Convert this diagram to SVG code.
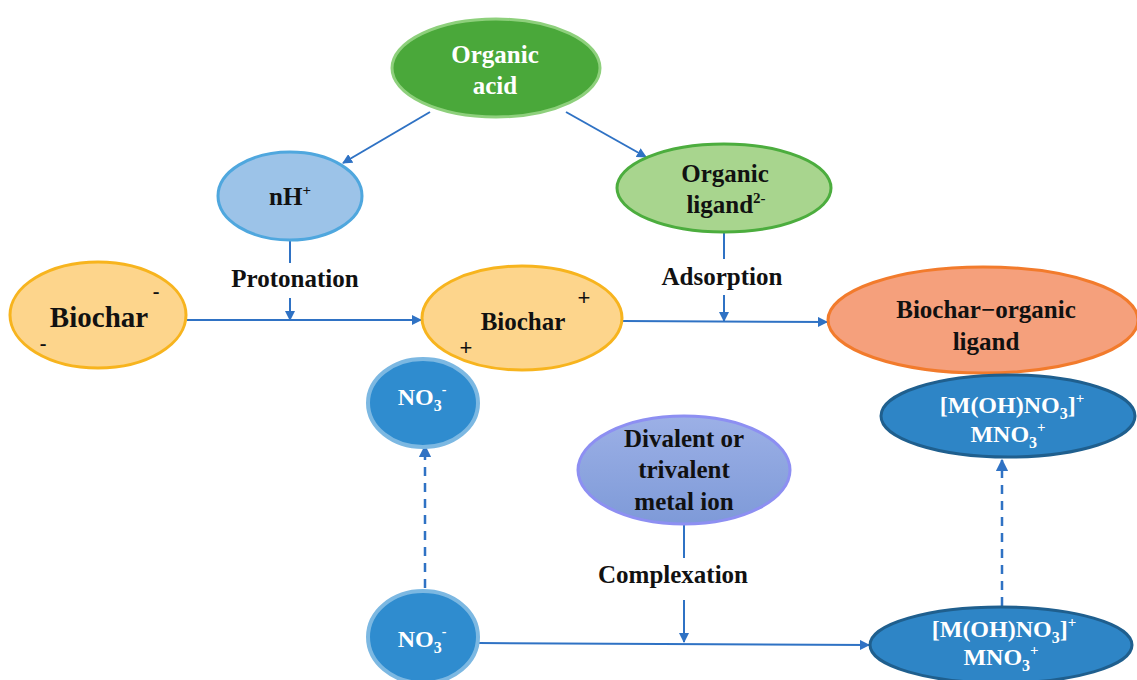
<svg xmlns="http://www.w3.org/2000/svg" width="1137" height="680" viewBox="0 0 1137 680">
<style>
text{font-family:"Liberation Serif","Times New Roman",serif;font-weight:bold;text-anchor:middle}
.k{fill:#111}
.w{fill:#fff}
.f25{font-size:25px}
.f24{font-size:24px}
.f29{font-size:29px}
.f20{font-size:20px}
.s{font-family:"Liberation Sans",Arial,sans-serif;font-weight:normal;fill:#111;font-size:22px}
.c{stroke:#2f72c4;stroke-width:2;fill:none}
.d{stroke:#2f72c4;stroke-width:2.5;fill:none;stroke-dasharray:9 7}
</style>
<defs>
<marker id="ah" viewBox="0 0 10 10" refX="9" refY="5" markerWidth="5" markerHeight="5" orient="auto"><path d="M0,0L10,5L0,10z" fill="#2f72c4"/></marker>
<linearGradient id="gv" x1="0" y1="0" x2="0" y2="1"><stop offset="0" stop-color="#9cb0e6"/><stop offset="1" stop-color="#7e9ad8"/></linearGradient>
</defs>
<g id="connectors">
<line class="c" x1="430" y1="112" x2="343" y2="163" marker-end="url(#ah)"/>
<line class="c" x1="566" y1="112" x2="646" y2="157" marker-end="url(#ah)"/>
<line class="c" x1="290" y1="240" x2="290" y2="263"/>
<line class="c" x1="290" y1="298" x2="290" y2="320" marker-end="url(#ah)"/>
<line class="c" x1="724" y1="232" x2="724" y2="259"/>
<line class="c" x1="724" y1="295" x2="724" y2="321" marker-end="url(#ah)"/>
<line class="c" x1="187" y1="320" x2="421" y2="320" marker-end="url(#ah)"/>
<line class="c" x1="622" y1="321" x2="827" y2="322" marker-end="url(#ah)"/>
<line class="c" x1="684" y1="525" x2="684" y2="558"/>
<line class="c" x1="684" y1="600" x2="684" y2="642" marker-end="url(#ah)"/>
<line class="c" x1="479" y1="643" x2="869" y2="645" marker-end="url(#ah)"/>
<line class="d" x1="425" y1="588" x2="425" y2="446" marker-end="url(#ah)"/>
<line class="d" x1="1002" y1="606" x2="1002" y2="460" marker-end="url(#ah)"/>
</g>
<g id="organic-acid">
<ellipse cx="496" cy="68" rx="104" ry="49" fill="#4aa83a" stroke="#8ed07c" stroke-width="3"/>
<text class="w f25" x="495" y="63">Organic</text>
<text class="w f25" x="495" y="94">acid</text>
</g>
<g id="nH">
<ellipse cx="290" cy="196" rx="72" ry="44" fill="#9cc3e8" stroke="#4fa7de" stroke-width="3"/>
<text class="k f25" x="290" y="205">nH<tspan font-size="15" dy="-10">+</tspan></text>
</g>
<g id="organic-ligand">
<ellipse cx="724" cy="188" rx="107" ry="44" fill="#a8d58e" stroke="#4cad3e" stroke-width="3"/>
<text class="k f25" x="725" y="182">Organic</text>
<text class="k f25" x="726" y="213">ligand<tspan font-size="15" dy="-10">2-</tspan></text>
</g>
<g id="label-protonation"><text class="k f25" x="295" y="287">Protonation</text></g>
<g id="label-adsorption"><text class="k f25" x="722" y="285">Adsorption</text></g>
<g id="biochar-neg">
<ellipse cx="98" cy="315" rx="88" ry="53" fill="#fdd58c" stroke="#f7b41e" stroke-width="3"/>
<text class="k f29" x="99" y="327">Biochar</text>
<text class="k f20" x="156" y="298">-</text>
<text class="k f20" x="43" y="350">-</text>
</g>
<g id="biochar-pos">
<ellipse cx="522" cy="318" rx="100" ry="52" fill="#fdd58c" stroke="#f7b41e" stroke-width="3"/>
<text class="k f25" x="523" y="330">Biochar</text>
<text class="s" x="584" y="305">+</text>
<text class="s" x="466" y="355">+</text>
</g>
<g id="biochar-organic-ligand">
<ellipse cx="983" cy="320" rx="155" ry="53" fill="#f5a07c" stroke="#f27b2c" stroke-width="3"/>
<text class="k f25" x="986" y="318">Biochar−organic</text>
<text class="k f25" x="986" y="350">ligand</text>
</g>
<g id="no3-upper">
<ellipse cx="423" cy="403" rx="55" ry="44" fill="#2f8ccf" stroke="#7cb8e2" stroke-width="4"/>
<text class="w f24" x="422" y="405">NO<tspan font-size="16" dy="6">3</tspan><tspan font-size="14" dy="-17">-</tspan></text>
</g>
<g id="complex-upper">
<ellipse cx="1008" cy="416" rx="127" ry="41" fill="#2e85c6" stroke="#1f5f8e" stroke-width="3"/>
<text class="w f24" x="1012" y="413">[M(OH)NO<tspan font-size="16" dy="6">3</tspan><tspan dy="-6">]</tspan><tspan font-size="15" dy="-10">+</tspan></text>
<text class="w f24" x="1008" y="442">MNO<tspan font-size="16" dy="6">3</tspan><tspan font-size="15" dy="-16">+</tspan></text>
</g>
<g id="metal-ion">
<ellipse cx="684" cy="470" rx="106" ry="54" fill="url(#gv)" stroke="#8d8ff2" stroke-width="3"/>
<text class="k f25" x="684" y="447">Divalent or</text>
<text class="k f25" x="684" y="478">trivalent</text>
<text class="k f25" x="684" y="510">metal ion</text>
</g>
<g id="label-complexation"><text class="k f25" x="673" y="583">Complexation</text></g>
<g id="no3-lower">
<ellipse cx="423" cy="637" rx="55" ry="46" fill="#2f8ccf" stroke="#7cb8e2" stroke-width="4"/>
<text class="w f24" x="422" y="647">NO<tspan font-size="16" dy="6">3</tspan><tspan font-size="14" dy="-17">-</tspan></text>
</g>
<g id="complex-lower">
<ellipse cx="1001" cy="645" rx="131" ry="38" fill="#2e85c6" stroke="#1f5f8e" stroke-width="3"/>
<text class="w f24" x="1004" y="637">[M(OH)NO<tspan font-size="16" dy="6">3</tspan><tspan dy="-6">]</tspan><tspan font-size="15" dy="-10">+</tspan></text>
<text class="w f24" x="1001" y="665">MNO<tspan font-size="16" dy="6">3</tspan><tspan font-size="15" dy="-16">+</tspan></text>
</g>
</svg>
